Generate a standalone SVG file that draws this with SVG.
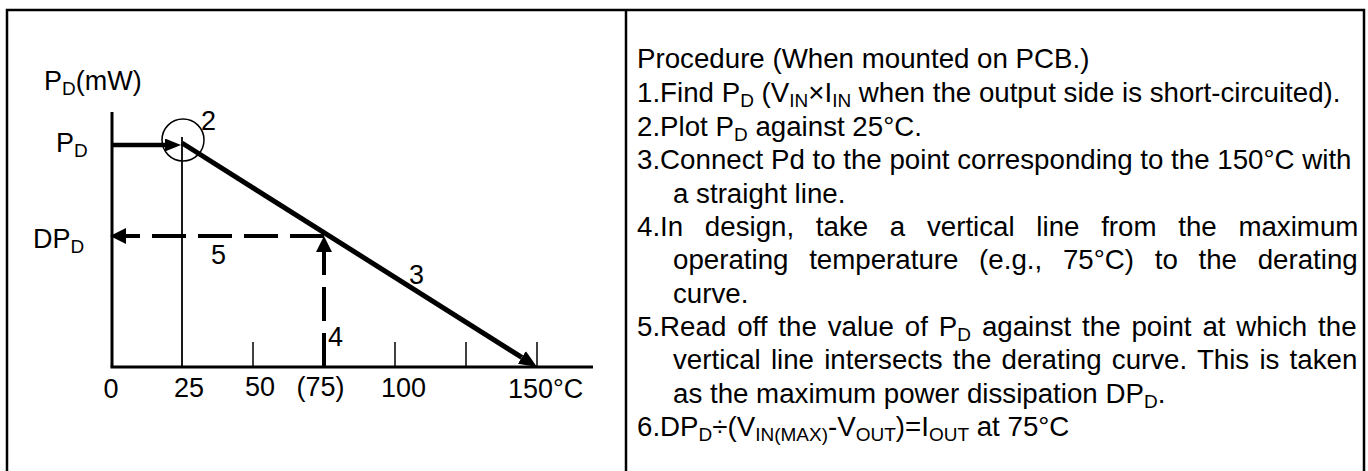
<svg xmlns="http://www.w3.org/2000/svg" width="1368" height="471" viewBox="0 0 1368 471">
<defs>
<style>
text{font-family:"Liberation Sans",Arial,sans-serif;fill:#000}
.t{font-size:27.7px}
.c{font-size:27px}
.s{font-size:19px}
.frame{stroke:#000;stroke-width:2.5;fill:none}
.axis{stroke:#000;stroke-width:3;fill:none}
.thin{stroke:#000;stroke-width:1.8;fill:none}
.tick{stroke:#000;stroke-width:1.5;fill:none}
.thick{stroke:#000;stroke-width:4.5;fill:none}
.curve{stroke:#000;stroke-width:5;fill:none}
.dash{stroke:#000;stroke-width:4;fill:none;stroke-dasharray:34 12}
</style>
<marker id="ahd" markerUnits="userSpaceOnUse" viewBox="0 0 16 16" markerWidth="16" markerHeight="16" refX="0" refY="8" orient="auto"><path d="M0,0 L16,8 L0,16 z" fill="#000"/></marker>
<marker id="ahs" markerUnits="userSpaceOnUse" viewBox="0 0 16 13" markerWidth="16" markerHeight="13" refX="0" refY="6.5" orient="auto"><path d="M0,0 L16,6.5 L0,13 z" fill="#000"/></marker>
<marker id="ahc" markerUnits="userSpaceOnUse" viewBox="0 0 18 15" markerWidth="18" markerHeight="15" refX="0" refY="7.5" orient="auto"><path d="M0,0 L18,7.5 L0,15 z" fill="#000"/></marker>
</defs>

<g id="frame">
<path class="frame" d="M7,471 V10 H1364 V471"/>
<line class="frame" x1="626" y1="10" x2="626" y2="471"/>
</g>

<g id="chart">
<line class="axis" x1="112" y1="112" x2="112" y2="367"/>
<line class="axis" x1="110.5" y1="367" x2="593" y2="367"/>
<line class="thin" x1="182" y1="137" x2="182" y2="367"/>
<line class="tick" x1="253" y1="342" x2="253" y2="367"/>
<line class="tick" x1="395" y1="342" x2="395" y2="367"/>
<line class="tick" x1="466" y1="342" x2="466" y2="367"/>
<line class="tick" x1="537" y1="342" x2="537" y2="367"/>
<circle class="tick" cx="183" cy="140" r="21"/>
</g>

<g id="connectors">
<line class="thick" x1="112" y1="145" x2="165" y2="145" marker-end="url(#ahs)"/>
<line class="curve" x1="182" y1="143" x2="521.8" y2="357.4" marker-end="url(#ahc)"/>
<path class="dash" d="M324,236 H126" marker-end="url(#ahd)"/>
<path class="dash" d="M324,367 V252" marker-end="url(#ahd)"/>
</g>

<g id="chart-labels">
<text class="c" x="44" y="90">P<tspan class="s" dy="5">D</tspan><tspan dy="-5">(mW)</tspan></text>
<text class="c" x="56" y="152">P<tspan class="s" dy="5">D</tspan></text>
<text class="c" x="33" y="248">DP<tspan class="s" dy="5">D</tspan></text>
<text class="c" x="201" y="130">2</text>
<text class="c" x="409" y="284">3</text>
<text class="c" x="328" y="346">4</text>
<text class="c" x="211" y="264">5</text>
<text class="c" x="111" y="398" text-anchor="middle">0</text>
<text class="c" x="189" y="397" text-anchor="middle">25</text>
<text class="c" x="260" y="396" text-anchor="middle">50</text>
<text class="c" x="320.5" y="396" text-anchor="middle">(75)</text>
<text class="c" x="403.5" y="397" text-anchor="middle">100</text>
<text class="c" x="508" y="398">150°C</text>
</g>

<g id="procedure">
<text class="t" x="637" y="68">Procedure (When mounted on PCB.)</text>
<text class="t" x="637" y="102">1.Find P<tspan class="s" dy="5">D</tspan><tspan dy="-5"> (V</tspan><tspan class="s" dy="5">IN</tspan><tspan dy="-5">×I</tspan><tspan class="s" dy="5">IN</tspan><tspan dy="-5"> when the output side is short-circuited).</tspan></text>
<text class="t" x="637" y="136">2.Plot P<tspan class="s" dy="5">D</tspan><tspan dy="-5"> against 25°C.</tspan></text>
<text class="t" x="637" y="169">3.Connect Pd to the point corresponding to the 150°C with</text>
<text class="t" x="673" y="203">a straight line.</text>
<text class="t" x="637" y="236" word-spacing="14">4.In design, take a vertical line from the maximum</text>
<text class="t" x="673" y="269" word-spacing="13">operating temperature (e.g., 75°C) to the derating</text>
<text class="t" x="673" y="303">curve.</text>
<text class="t" x="637" y="336" word-spacing="3.2">5.Read off the value of P<tspan class="s" dy="5">D</tspan><tspan dy="-5"> against the point at which the</tspan></text>
<text class="t" x="673" y="369" word-spacing="2.5">vertical line intersects the derating curve. This is taken</text>
<text class="t" x="673" y="403">as the maximum power dissipation DP<tspan class="s" dy="5">D</tspan><tspan dy="-5">.</tspan></text>
<text class="t" x="637" y="436">6.DP<tspan class="s" dy="5">D</tspan><tspan dy="-5">÷(V</tspan><tspan class="s" dy="5">IN(MAX)</tspan><tspan dy="-5">-V</tspan><tspan class="s" dy="5">OUT</tspan><tspan dy="-5">)=I</tspan><tspan class="s" dy="5">OUT</tspan><tspan dy="-5"> at 75°C</tspan></text>
</g>
</svg>
